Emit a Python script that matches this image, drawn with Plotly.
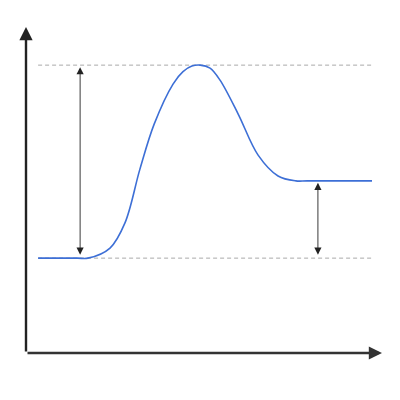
import plotly.graph_objects as go

# Reaction coordinate (x) and energy (y)
curve_x = [0.34, 1.45, 1.74, 2.36, 2.78, 3.20, 3.60, 4.13, 4.41, 4.66, 4.89, 5.17, 5.45, 5.96, 6.52, 7.08, 7.58, 7.90, 9.72]
curve_y = [2.91, 2.91, 2.91, 3.22, 3.99, 5.64, 7.02, 8.25, 8.63, 8.80, 8.83, 8.74, 8.37, 7.33, 6.07, 5.43, 5.28, 5.28, 5.28]

reactant_level = 2.91
peak_level = 8.83
product_level = 5.28
level_span = [0.34, 9.72]
activation_arrow_x = 1.52
reaction_arrow_x = 8.2
axis_max = [10, 10]

fig = go.Figure()

# dashed reference levels
for lvl in [peak_level, reactant_level]:
    fig.add_trace(go.Scatter(x=level_span, y=[lvl, lvl], mode="lines",
                             line=dict(color="#aaaaaa", width=1, dash="4px,3px"),
                             hoverinfo="skip", showlegend=False))

fig.add_trace(go.Scatter(x=curve_x, y=curve_y, mode="lines",
                         line=dict(color="#3d6fd6", width=1.6, shape="spline", smoothing=1.0),
                         showlegend=False))

anns = []
# axes with arrows
anns.append(dict(x=0, y=axis_max[1], ax=0, ay=0, xref="x", yref="y", axref="x", ayref="y",
                 text="", showarrow=True, arrowhead=2, arrowsize=1.1, arrowwidth=2.4, arrowcolor="#222222"))
anns.append(dict(x=axis_max[0], y=0, ax=0, ay=0, xref="x", yref="y", axref="x", ayref="y",
                 text="", showarrow=True, arrowhead=2, arrowsize=1.1, arrowwidth=2.4, arrowcolor="#333333"))
# double-headed arrows
for ax_x, top in [(activation_arrow_x, peak_level), (reaction_arrow_x, product_level)]:
    anns.append(dict(x=ax_x, y=top, ax=ax_x, ay=reactant_level,
                     xref="x", yref="y", axref="x", ayref="y", text="", showarrow=True,
                     arrowhead=2, startarrowhead=2, arrowside="end+start", arrowsize=1.6, startarrowsize=1.6,
                     arrowwidth=0.9, arrowcolor="#222222", standoff=2, startstandoff=2))

fig.update_layout(
    width=400, height=400,
    margin=dict(l=18, r=26, t=19, b=55),
    paper_bgcolor="white", plot_bgcolor="white",
    annotations=anns,
    xaxis=dict(range=[0, axis_max[0]], showgrid=False, zeroline=False, showticklabels=False, showline=False),
    yaxis=dict(range=[0, axis_max[1]], showgrid=False, zeroline=False, showticklabels=False, showline=False),
)

fig.write_html("out.html")
